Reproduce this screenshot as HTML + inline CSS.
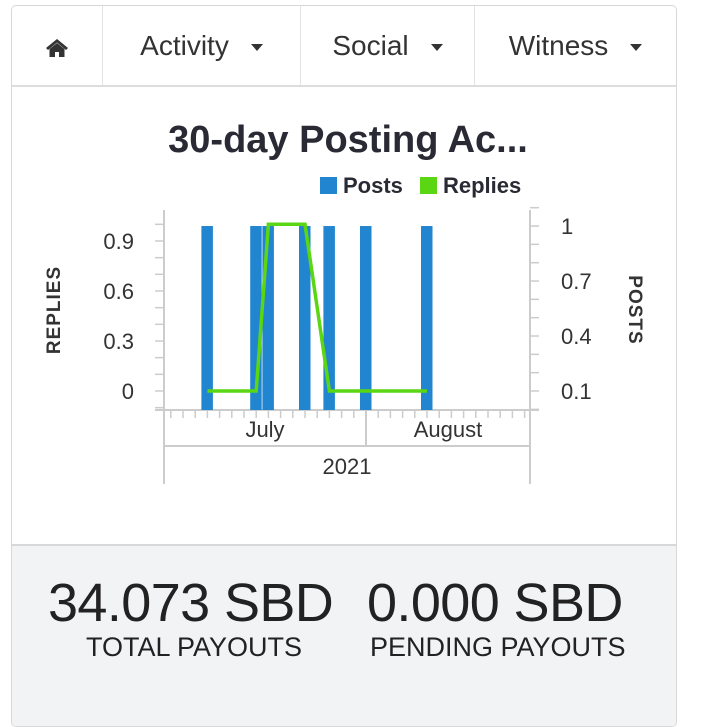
<!DOCTYPE html>
<html style="height:709px;overflow:hidden"><head><meta charset="utf-8"><style>
body{margin:0;width:703px;height:709px;background:#fff;overflow:hidden;font-family:"Liberation Sans",sans-serif;}
.card{position:absolute;left:11px;top:5px;width:664px;height:720px;border:1px solid #d8d8d8;border-radius:5px;overflow:hidden;}
.nav{position:absolute;left:0;top:0;width:664px;height:79px;border-bottom:2px solid #ddd;}
.nav div{position:absolute;top:0;height:79px;line-height:80px;font-size:28px;color:#333;text-align:center;border-right:1px solid #e3e3e3;}
.caret{display:inline-block;width:0;height:0;border-left:6px solid transparent;border-right:6px solid transparent;border-top:7px solid #333;vertical-align:middle;margin-left:22px;}
.foot{position:absolute;left:0;top:538px;width:664px;height:200px;background:#f2f3f5;border-top:2px solid #d8d8d8;}
.num{position:absolute;top:26px;font-size:54px;color:#222;letter-spacing:-0.6px;font-weight:300;}
.lab{position:absolute;top:86px;font-size:27px;color:#222;letter-spacing:0px;}
</style></head><body>
<div class="card">
 <div class="nav">
  <div style="left:0;width:90px"><svg width="22" height="20" viewBox="0 0 22 20" style="vertical-align:middle"><path d="M11 1 L0 10 L2 12 L11 4.5 L20 12 L22 10 Z" fill="#333"/><path d="M3.5 11 L11 5 L18.5 11 V19 H13 V14 H9 V19 H3.5 Z" fill="#333"/></svg></div>
  <div style="left:91px;width:197px">Activity<span class="caret"></span></div>
  <div style="left:289px;width:173px">Social<span class="caret"></span></div>
  <div style="left:463px;width:201px;border-right:none">Witness<span class="caret"></span></div>
 </div>
 <div class="foot">
  <div class="num" style="left:36px">34.073 SBD</div>
  <div class="lab" style="left:74px">TOTAL PAYOUTS</div>
  <div class="num" style="left:355px">0.000 SBD</div>
  <div class="lab" style="left:358px">PENDING PAYOUTS</div>
 </div>
</div>
<svg id="chart" width="703" height="709" style="position:absolute;left:0;top:0"></svg>
<script>
const dayOffsets=[-13,-9,-8,-5,-3,0,5];
const postsValues=[1,1,1,1,1,1,1];
const repliesOffsets=[-13,-9,-8,-5,-3,0,5];
const repliesValues=[0,0,1,1,0,0,0];
const leftTicks=[0,0.3,0.6,0.9];
const leftTickLabels=["0","0.3","0.6","0.9"];
const rightTicks=[0.1,0.4,0.7,1];
const rightTickLabels=["0.1","0.4","0.7","1"];
const monthLabels=["July","August"];
const yearLabels=["2021"];

const NS="http://www.w3.org/2000/svg";
const svg=document.getElementById('chart');
function mk(t,a,p){const e=document.createElementNS(NS,t);for(const k in a)e.setAttribute(k,a[k]);(p||svg).appendChild(e);return e;}
const X0=164,X1=530,Y0=410,Y1=210,AUG=366,DW=12.2;
const xs=d=>AUG+d*DW;
const yL=v=>391-v*166.7;
const yR=v=>391-(v-0.1)*183.3;
const grey="#ccc",txt="#333";
let t=mk('text',{x:348,y:152,'text-anchor':'middle','font-size':38,'font-weight':'bold',fill:'#2a2a35'});t.textContent="30-day Posting Ac...";


let r=mk('rect',{x:320,y:177,width:17,height:17,fill:'#2185d0'});


t=mk('text',{x:343,y:193,'font-size':22,'font-weight':'bold',fill:'#2a2a35'});t.textContent="Posts";


r=mk('rect',{x:420,y:177,width:17,height:17,fill:'#5ad712'});


t=mk('text',{x:443,y:193,'font-size':22,'font-weight':'bold',fill:'#2a2a35'});t.textContent="Replies";


mk('line',{x1:X0,y1:Y1,x2:X0,y2:484,stroke:grey,'stroke-width':2});
mk('line',{x1:X1,y1:Y1,x2:X1,y2:484,stroke:grey,'stroke-width':2});
mk('line',{x1:155,y1:Y0,x2:539,y2:Y0,stroke:grey,'stroke-width':2});
mk('line',{x1:X0,y1:446,x2:X1,y2:446,stroke:grey,'stroke-width':2});
mk('line',{x1:AUG,y1:Y0,x2:AUG,y2:446,stroke:grey,'stroke-width':2});
for(let v=-0.1;v<=1.08;v+=0.1){mk('line',{x1:155,x2:X0,y1:yL(v),y2:yL(v),stroke:grey,'stroke-width':1.5});}
for(let v=0;v<=1.15;v+=0.1){mk('line',{x1:X1,x2:539,y1:yR(v),y2:yR(v),stroke:grey,'stroke-width':1.5});}
for(let k=-16;k<=13;k++){mk('line',{x1:xs(k),x2:xs(k),y1:411,y2:418,stroke:grey,'stroke-width':1.5});}
leftTicks.forEach((v,i)=>{const e=mk('text',{x:134,y:yL(v)+8,'text-anchor':'end','font-size':22,fill:txt});e.textContent=leftTickLabels[i];

});
rightTicks.forEach((v,i)=>{const e=mk('text',{x:561,y:yR(v)+8,'font-size':22,fill:txt});e.textContent=rightTickLabels[i];

});
t=mk('text',{x:0,y:0,transform:'translate(60,310) rotate(-90)','text-anchor':'middle','font-size':19,'font-weight':'bold',fill:txt,'letter-spacing':1});t.textContent="REPLIES";


t=mk('text',{x:0,y:0,transform:'translate(629,310) rotate(90)','text-anchor':'middle','font-size':19,'font-weight':'bold',fill:txt,'letter-spacing':1});t.textContent="POSTS";


[[265,monthLabels[0]],[448,monthLabels[1]]].forEach(([x,s])=>{const e=mk('text',{x:x,y:437,'text-anchor':'middle','font-size':22,fill:txt});e.textContent=s;

});
t=mk('text',{x:347,y:474,'text-anchor':'middle','font-size':22,fill:txt});t.textContent=yearLabels[0];


dayOffsets.forEach((d,i)=>{const y=yR(postsValues[i]);const b=mk('rect',{x:xs(d)-6,y:y,width:11.5,height:Y0-y,fill:'#2185d0'});

});
const pts=repliesOffsets.map((d,i)=>xs(d)+','+yL(repliesValues[i])).join(' ');
const ln=mk('polyline',{points:pts,fill:'none',stroke:'#5ad712','stroke-width':3.5});


</script>
</body></html>
